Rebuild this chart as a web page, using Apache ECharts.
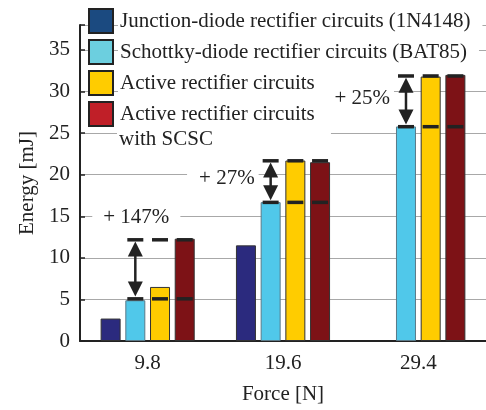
<!DOCTYPE html>
<html><head><meta charset="utf-8">
<script src="https://cdn.jsdelivr.net/npm/echarts@6/dist/echarts.min.js"></script>
<style>html,body{margin:0;padding:0;background:#fff}#c{width:486px;height:410px}</style>
</head><body><div id="c"></div>
<script>
// ---- data ----
const categories = ['9.8', '19.6', '29.4'];
const seriesNames = [
  'Junction-diode rectifier circuits (1N4148)',
  'Schottky-diode rectifier circuits (BAT85)',
  'Active rectifier circuits',
  'Active rectifier circuits with SCSC'
];
const junction = [2.7, 11.5, null];
const schottky = [4.9, 16.7, 25.8];
const active = [6.5, 21.7, 31.8];
const activeSCSC = [12.3, 21.5, 32.0];
const lowLevel = [5.1, 16.7, 25.8];
const highLevel = [12.2, 21.7, 31.9];
const gainLabels = ['+ 147%', '+ 27%', '+ 25%'];

// ---- style ----
const FONT = 'Liberation Serif';
const FS = 21;
const TXT = '#222';
const barColors = ['#2b2a7e', '#50c8ea', '#ffcc00', '#7d1216'];
const barBorders = ['#333', '#5a7a88', '#333', '#333'];
const legendColors = ['#1b4a80', '#6ccfdf', '#ffcc00', '#c01f28'];
const BAR_W = 20, BAR_GAP = 0.235;

const chart = echarts.init(document.getElementById('c'), null, {renderer: 'canvas'});
const values = [junction, schottky, active, activeSCSC];

function renderMarks(params, api) {
  const i = api.value(0);
  const lo = api.coord([i, api.value(1)]);
  const hi = api.coord([i, api.value(2)]);
  const cx = lo[0];
  const pitch = BAR_W * (1 + BAR_GAP);
  const offs = [-0.5 * pitch, 0.5 * pitch, 1.5 * pitch];
  const children = [];
  offs.forEach(function (o) {
    [lo[1], hi[1]].forEach(function (y) {
      children.push({type: 'rect', shape: {x: cx + o - 8, y: y - 1.5, width: 16, height: 3.5}, style: {fill: '#222'}});
    });
  });
  const ax = cx + offs[0];
  const head = 15, hw = 7.5;
  const t = hi[1] + 2, b = lo[1] - 2;
  children.push({type: 'line', shape: {x1: ax, y1: t + head - 1, x2: ax, y2: b - head + 1}, style: {stroke: '#222', lineWidth: 2.5}});
  children.push({type: 'polygon', shape: {points: [[ax, t], [ax - hw, t + head], [ax + hw, t + head]]}, style: {fill: '#222'}});
  children.push({type: 'polygon', shape: {points: [[ax, b], [ax - hw, b - head], [ax + hw, b - head]]}, style: {fill: '#222'}});
  const label = gainLabels[params.dataIndex];
  let tx, ty, align, pad;
  if (params.dataIndex === 0) { tx = ax + 1; ty = hi[1] - 22; align = 'center'; pad = [1, 11]; }
  else { tx = ax - 12; ty = (lo[1] + hi[1]) / 2 - 3; align = 'right'; pad = [1, 4, 1, 12]; }
  children.push({type: 'text', x: tx, y: ty, style: {
    text: label, fontFamily: FONT, fontSize: FS, fill: TXT, align: align, verticalAlign: 'middle',
    backgroundColor: '#fff', padding: pad
  }});
  return {type: 'group', children: children};
}

const series = values.map(function (v, k) {
  return {
    name: seriesNames[k], type: 'bar', data: v, barWidth: BAR_W, barGap: (BAR_GAP * 100) + '%',
    itemStyle: {color: barColors[k], borderColor: barBorders[k], borderWidth: 1},
    emphasis: {disabled: true}, z: 2
  };
});
series.push({
  type: 'custom', renderItem: renderMarks, z: 5, silent: true,
  data: categories.map(function (c, i) { return [i, lowLevel[i], highLevel[i]]; })
});

chart.setOption({
  animation: false,
  grid: {left: 80, top: 25, width: 410, height: 323},
  legend: {
    orient: 'vertical', left: 88, top: 8, padding: 0, itemWidth: 24, itemHeight: 24, itemGap: 5,
    icon: 'rect', selectedMode: false,
    itemStyle: {borderColor: '#222', borderWidth: 2},
    textStyle: {fontFamily: FONT, fontSize: FS, lineHeight: 22, color: TXT, backgroundColor: '#fff', padding: [0, 12, 0, 2]},
    formatter: function (n) { return n === seriesNames[3] ? 'Active rectifier circuits' : n; },
    data: seriesNames.map(function (n, i) { return {name: n, itemStyle: {color: legendColors[i]}}; })
  },
  graphic: [{
    type: 'text', left: 117, top: 127, z: 100,
    style: {text: 'with SCSC', fontFamily: FONT, fontSize: FS, lineHeight: 24, fill: TXT, backgroundColor: '#fff', padding: [0, 118, 0, 2]}
  }],
  xAxis: {
    type: 'category', data: categories,
    axisLine: {lineStyle: {color: '#222', width: 2}},
    axisTick: {show: false},
    axisLabel: {fontFamily: FONT, fontSize: FS, color: TXT, margin: 12},
    name: 'Force [N]', nameLocation: 'middle', nameGap: 43,
    nameTextStyle: {fontFamily: FONT, fontSize: FS, color: TXT}
  },
  yAxis: {
    type: 'value', min: 0, max: 38, interval: 5,
    axisLine: {show: true, lineStyle: {color: '#222', width: 2}},
    axisTick: {show: true, inside: true, length: 5, lineStyle: {color: '#222', width: 1.5}},
    axisLabel: {fontFamily: FONT, fontSize: FS, color: TXT, margin: 10,
      formatter: function (v) { return v % 5 === 0 ? String(v) : ''; }},
    splitLine: {lineStyle: {color: '#a8a8a8', width: 1}},
    name: 'Energy [mJ]', nameLocation: 'middle', nameGap: 42,
    nameTextStyle: {fontFamily: FONT, fontSize: FS, color: TXT}
  },
  series: series
});
</script></body></html>
